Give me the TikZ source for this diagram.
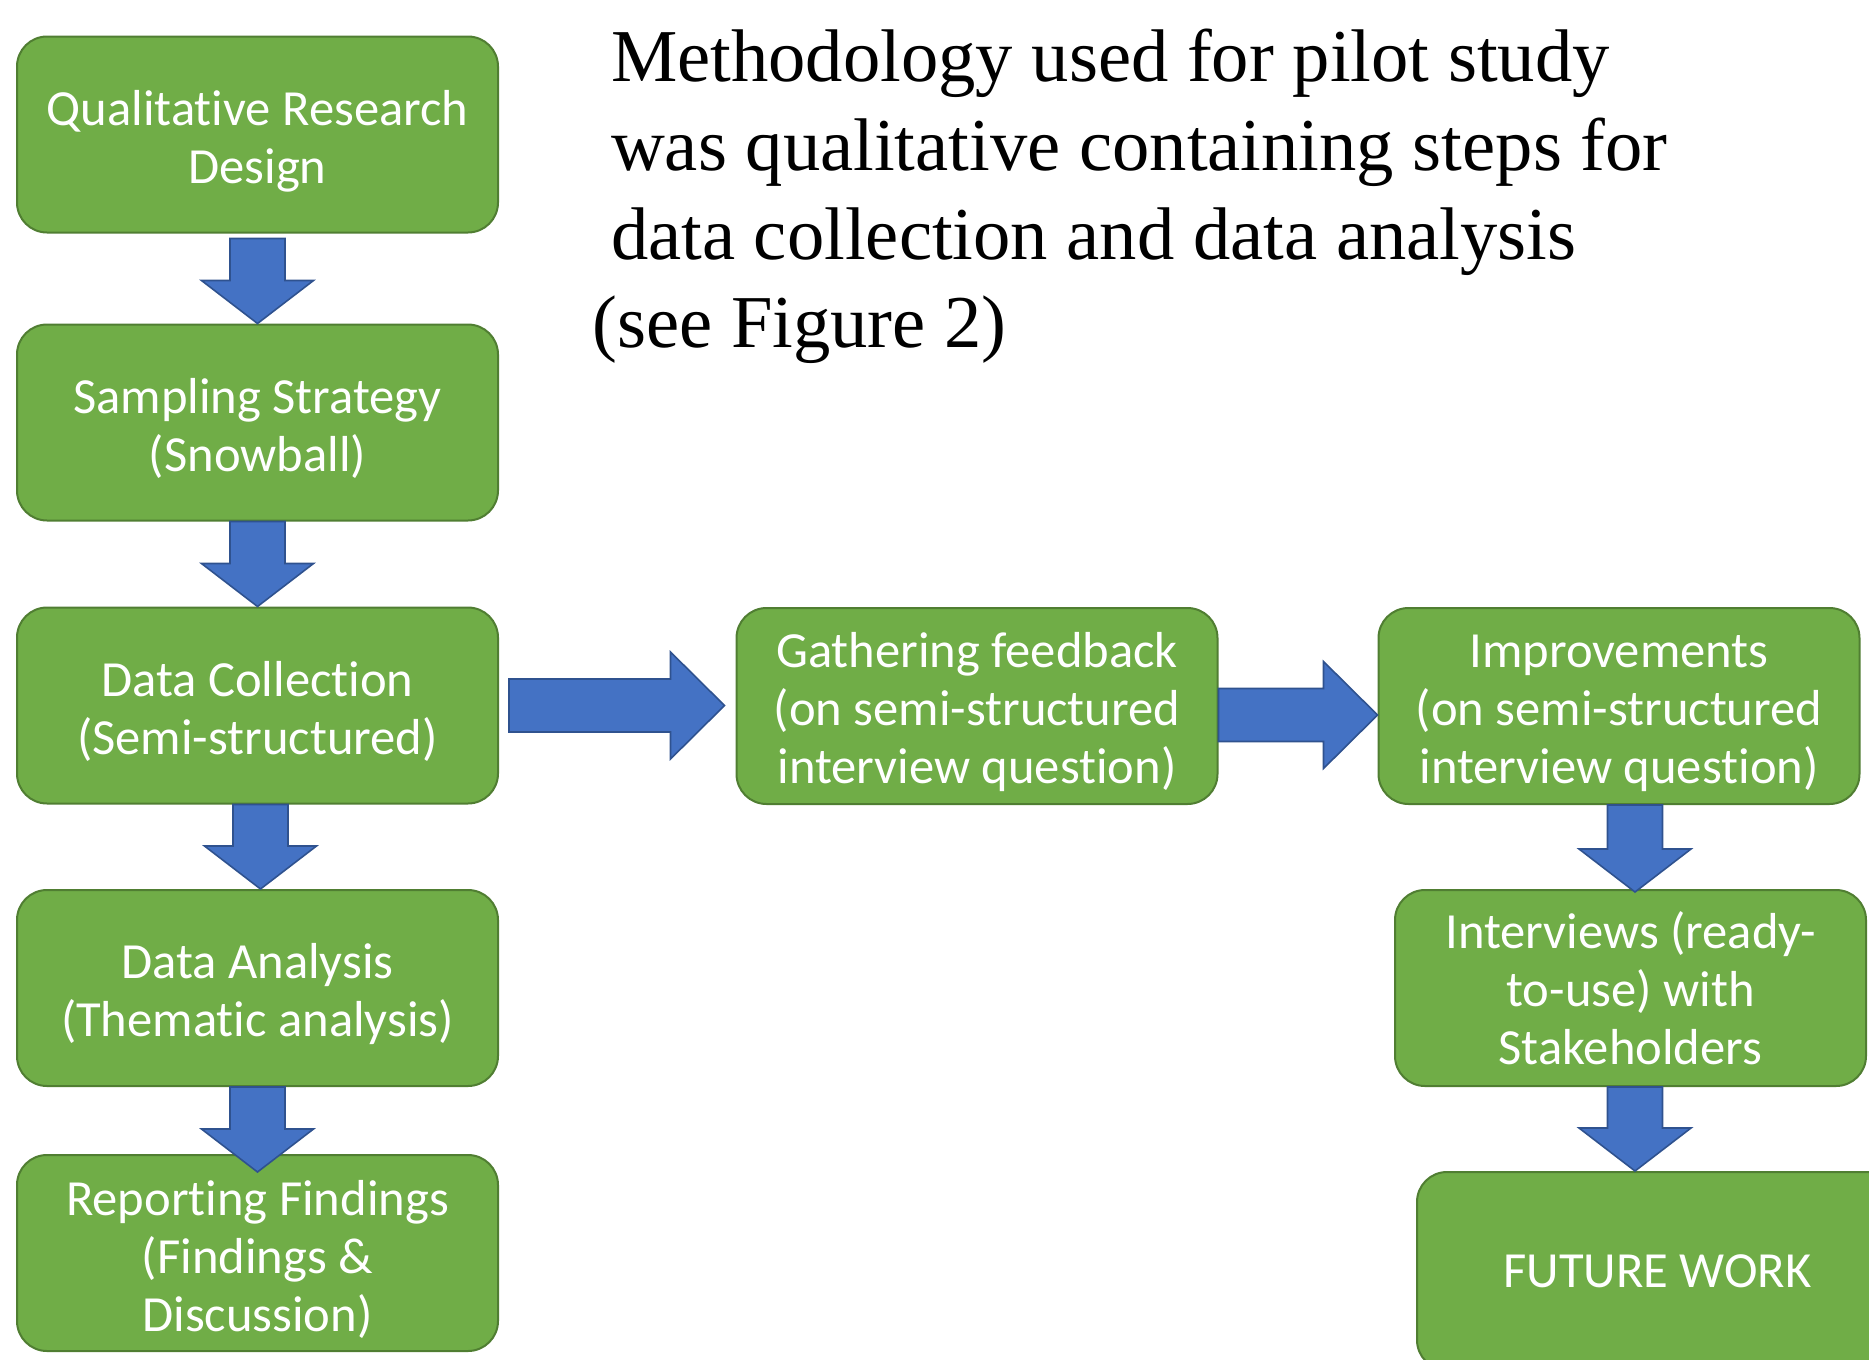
\documentclass[tikz,border=0pt]{standalone}
\usepackage{fontspec}
\setmainfont{Carlito}[Ligatures=CommonOff]
\newfontfamily\titlefont{Liberation Serif}
\usetikzlibrary{calc}

\definecolor{boxgreen}{HTML}{70AD47}
\definecolor{boxedge}{HTML}{507E32}
\definecolor{arrowblue}{HTML}{4472C4}
\definecolor{arrowedge}{HTML}{2F528F}

% taller first line, so the text block sits a bit lower in its box
\newcommand{\lift}{\rule{0pt}{24pt}}

\newcommand{\downblock}[2]{%
	\filldraw[blockarrow] let \p1=#1, \p2=#2 in
		(\x1-13.75pt,\y1) -- (\x1+13.75pt,\y1) -- (\x1+13.75pt,\y2+21.5pt)
		-- (\x1+28pt,\y2+21.5pt) -- (\x1,\y2) -- (\x1-28pt,\y2+21.5pt)
		-- (\x1-13.75pt,\y2+21.5pt) -- cycle;}
\newcommand{\rightblock}[2]{%
	\filldraw[blockarrow] let \p1=#1, \p2=#2 in
		(\x1,\y1+13.25pt) -- (\x2-27pt,\y1+13.25pt) -- (\x2-27pt,\y1+26.75pt)
		-- (\x2,\y1) -- (\x2-27pt,\y1-26.75pt) -- (\x2-27pt,\y1-13.25pt)
		-- (\x1,\y1-13.25pt) -- cycle;}

\begin{document}
\begin{tikzpicture}[
			x=0.5pt, y=-0.5pt,
			stepbox/.style={rectangle, rounded corners=15pt, draw=boxedge, line width=1pt,
					fill=boxgreen, text=white, align=center, inner sep=0pt,
					minimum width=240.5pt, minimum height=98pt,
					font=\fontsize{25.3}{29}\selectfont},
			blockarrow/.style={fill=arrowblue, draw=arrowedge, line width=0.8pt, line join=miter}
		]
		\useasboundingbox (0,0) rectangle (1869,1360);
		\clip (0,0) rectangle (1869,1360);

		\node[stepbox] (design) at (257.5,134.5) {\lift Qualitative Research\\Design};
		\node[stepbox] (sampling) at (257.5,422.5) {\lift Sampling Strategy\\(Snowball)};
		\node[stepbox] (collect) at (257.5,705.5) {\lift Data Collection\\(Semi-structured)};
		\node[stepbox] (analysis) at (257.5,988) {\lift Data Analysis\\(Thematic analysis)};
		\node[stepbox] (report) at (257.5,1253) {\lift Reporting Findings\\(Findings \&\\Discussion)};

		\node[stepbox] (gather) at (977,706) {\lift Gathering feedback\\(on semi-structured\\interview question)};
		\node[stepbox] (improve) at (1619,706) {\lift Improvements\\(on semi-structured\\interview question)};
		\node[stepbox, minimum width=235.5pt] (interview) at (1630.5,988) {Interviews (ready-\\to-use) with\\Stakeholders};
		\node[stepbox, minimum height=99pt] (future) at (1657.5,1271) {FUTURE WORK};

		\node[anchor=north west, inner sep=0pt, align=left,
			font=\titlefont\fontsize{37.3}{44.3}\selectfont] (title) at (592,29)
			{\hspace*{0.25em}Methodology used for pilot study\\
				\hspace*{0.25em}was qualitative containing steps for\\
				\hspace*{0.25em}data collection and data analysis\\
				(see Figure 2)};

		\downblock{($(design.south)+(0,-2.5pt)$)}{(sampling.north)}
		\downblock{(sampling.south)}{(collect.north)}
		\downblock{($(collect.south)+(1.5pt,0)$)}{(analysis.north)}
		\downblock{(analysis.south)}{($(report.north)+(0,-9pt)$)}
		\downblock{($(improve.south)+(8pt,0)$)}{($(interview.north)+(0,-1.5pt)$)}
		\downblock{($(interview.south)+(2.25pt,0)$)}{(future.north)}

		\rightblock{($(collect.east)+(5pt,0)$)}{($(gather.west)+(-5.5pt,0)$)}
		\rightblock{($(gather.east)+(0,-4.5pt)$)}{(improve.west)}
	\end{tikzpicture}
\end{document}
